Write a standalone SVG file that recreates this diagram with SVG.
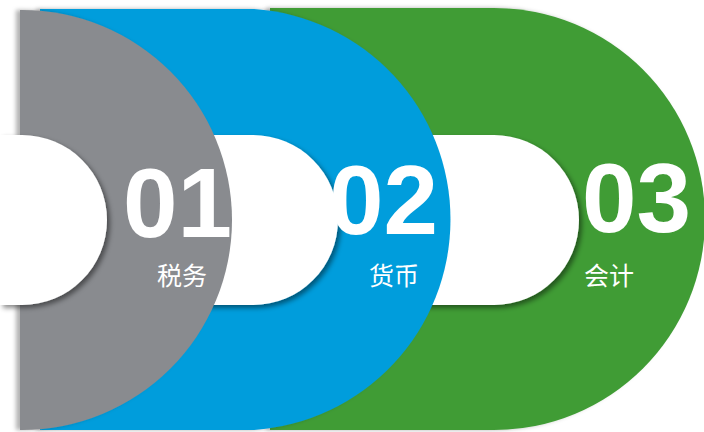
<svg xmlns="http://www.w3.org/2000/svg" width="704" height="432" viewBox="0 0 704 432">
<style>
.num{font-family:"Liberation Sans",Arial,sans-serif;font-weight:bold;font-size:98px;fill:#ffffff}
.lbl{font-family:"Noto Sans CJK SC","Noto Sans",sans-serif;font-size:25px;fill:#ffffff}
.cut{fill:#ffffff;filter:url(#cutShadow)}
.outer{filter:url(#outerShadow)}
</style>
<defs>
<filter id="outerShadow" x="-10%" y="-10%" width="120%" height="120%">
<feDropShadow dx="-4" dy="0" stdDeviation="2" flood-color="#000" flood-opacity="0.3"/>
</filter>
<filter id="cutShadow" x="-10%" y="-10%" width="130%" height="130%">
<feDropShadow dx="3" dy="3" stdDeviation="2.5" flood-color="#000" flood-opacity="0.45"/>
</filter>
</defs>
<rect width="704" height="432" fill="#ffffff"/>
<g id="node3">
<path class="outer" d="M270,8 H494 A211,211 0 0 1 494,430 H270 Z" fill="#419C36"/>
<path class="cut" d="M270,135 H494 A85,85 0 0 1 494,305 H270 Z"/>
<text class="num" x="582" y="232">03</text>
<text class="lbl" x="584" y="285">会计</text>
</g>
<g id="node2">
<path class="outer" d="M40,9 H254 A211,211 0 0 1 254,430 H40 Z" fill="#009DDC"/>
<path class="cut" d="M40,135 H253 A85,85 0 0 1 253,305 H40 Z"/>
<text class="num" x="329" y="234">02</text>
<text class="lbl" x="369" y="285">货币</text>
</g>
<g id="node1">
<path class="outer" d="M20,10 H22 A210,210 0 0 1 22,430 H20 Z" fill="#898B8F"/>
<path class="cut" d="M0,135 H22 A85,85 0 0 1 22,305 H0 Z"/>
<text class="num" x="123" y="237">01</text>
<text class="lbl" x="157" y="285">税务</text>
</g>
<g id="connectors"/>
</svg>
